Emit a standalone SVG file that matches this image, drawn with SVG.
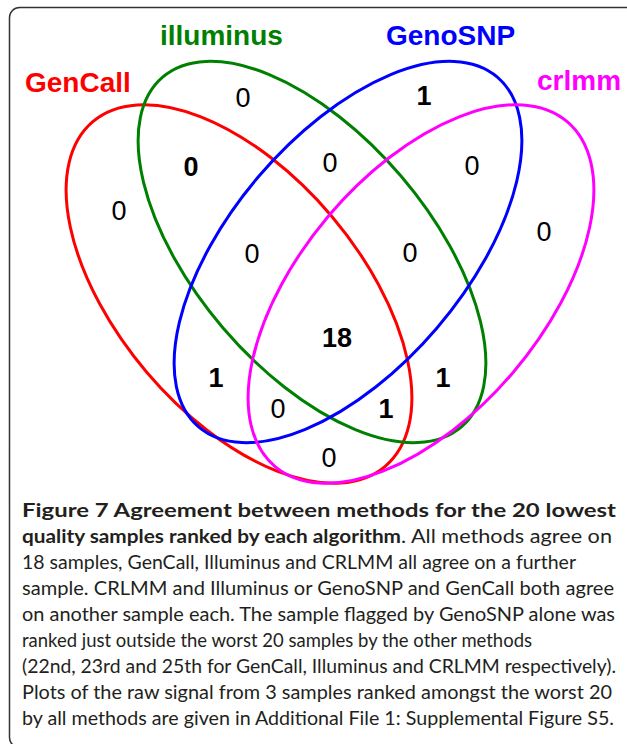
<svg xmlns="http://www.w3.org/2000/svg" width="627" height="744" viewBox="0 0 627 744">
<style>
.frame{fill:none;stroke:#333;stroke-width:1.5}
.set{fill:none;stroke-width:3}
.lbl{font-family:"Liberation Sans",Arial,sans-serif;font-weight:bold;font-size:28px}
.num{font-family:"Liberation Sans",Arial,sans-serif;font-size:27px;fill:#000;text-anchor:middle}
.b{font-weight:bold}
.cap{font-family:Lato,"Open Sans",sans-serif;font-size:19.5px;fill:#231f20}
.capb{font-weight:bold}
</style>
<rect class="frame" x="9.5" y="7.5" width="626.5" height="740" rx="10"/>
<g id="connectors"></g>
<g id="GenCall">
<ellipse class="set" stroke="#ff0000" cx="239" cy="294" rx="226" ry="121" transform="rotate(49.7 239 294)"/>
<text class="lbl" x="25" y="92" fill="#ff0000">GenCall</text>
</g>
<g id="illuminus">
<ellipse class="set" stroke="#008000" cx="312" cy="252" rx="230" ry="117" transform="rotate(49.5 312 252)"/>
<text class="lbl" x="160" y="45" fill="#008000">illuminus</text>
</g>
<g id="GenoSNP">
<ellipse class="set" stroke="#0000ff" cx="348" cy="252" rx="230" ry="117" transform="rotate(-49.5 348 252)"/>
<text class="lbl" x="386" y="45" fill="#0000ff">GenoSNP</text>
</g>
<g id="crlmm">
<ellipse class="set" stroke="#ff00ff" cx="421" cy="294" rx="226" ry="121" transform="rotate(-49.7 421 294)"/>
<text class="lbl" x="537" y="90" fill="#ff00ff">crlmm</text>
</g>
<g id="counts">
<text class="num" x="243" y="107">0</text>
<text class="num b" x="191" y="176">0</text>
<text class="num" x="119" y="220">0</text>
<text class="num b" x="424" y="105">1</text>
<text class="num" x="330" y="172">0</text>
<text class="num" x="472" y="175">0</text>
<text class="num" x="544" y="241">0</text>
<text class="num" x="252" y="263">0</text>
<text class="num" x="410" y="262">0</text>
<text class="num b" x="337" y="347">18</text>
<text class="num b" x="216" y="387">1</text>
<text class="num" x="278" y="418">0</text>
<text class="num b" x="443" y="387">1</text>
<text class="num b" x="386" y="418">1</text>
<text class="num" x="329" y="467">0</text>
</g>
<g id="caption">
<text class="cap capb" x="22" y="517" textLength="594" lengthAdjust="spacingAndGlyphs">Figure 7 Agreement between methods for the 20 lowest</text>
<text class="cap capb" x="22" y="543" textLength="379" lengthAdjust="spacingAndGlyphs">quality samples ranked by each algorithm</text>
<text class="cap" x="401" y="543" textLength="211" lengthAdjust="spacingAndGlyphs">. All methods agree on</text>
<text class="cap" x="22" y="569" textLength="554" lengthAdjust="spacingAndGlyphs">18 samples, GenCall, Illuminus and CRLMM all agree on a further</text>
<text class="cap" x="22" y="595" textLength="592" lengthAdjust="spacingAndGlyphs">sample. CRLMM and Illuminus or GenoSNP and GenCall both agree</text>
<text class="cap" x="22" y="621" textLength="593" lengthAdjust="spacingAndGlyphs">on another sample each. The sample flagged by GenoSNP alone was</text>
<text class="cap" x="22" y="647" textLength="510" lengthAdjust="spacingAndGlyphs">ranked just outside the worst 20 samples by the other methods</text>
<text class="cap" x="22" y="673" textLength="594" lengthAdjust="spacingAndGlyphs">(22nd, 23rd and 25th for GenCall, Illuminus and CRLMM respectively).</text>
<text class="cap" x="22" y="699" textLength="590" lengthAdjust="spacingAndGlyphs">Plots of the raw signal from 3 samples ranked amongst the worst 20</text>
<text class="cap" x="22" y="725" textLength="592" lengthAdjust="spacingAndGlyphs">by all methods are given in Additional File 1: Supplemental Figure S5.</text>
</g>
</svg>
